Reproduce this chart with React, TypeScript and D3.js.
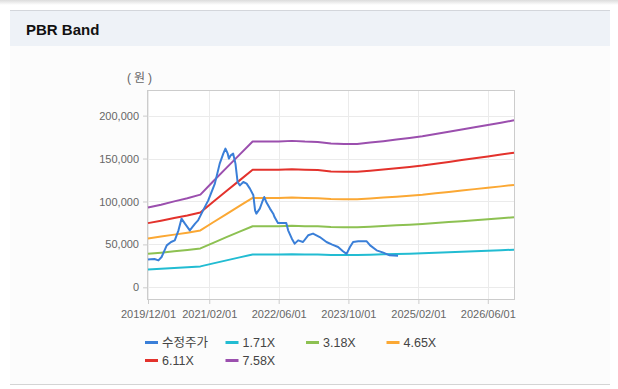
import React, { useRef, useEffect } from "react";
import * as d3 from "d3";

// band series are quarterly
const bandDates = [
  "2019-12-01", "2020-03-01", "2020-06-01", "2020-09-01", "2020-12-01",
  "2021-03-01", "2021-06-01", "2021-09-01", "2021-12-01", "2022-03-01",
  "2022-06-01", "2022-09-01", "2022-12-01", "2023-03-01", "2023-06-01",
  "2023-09-01", "2023-12-01", "2024-03-01", "2024-06-01", "2024-09-01",
  "2024-12-01", "2025-03-01", "2025-06-01", "2025-09-01", "2025-12-01",
  "2026-03-01", "2026-06-01", "2026-09-01", "2026-12-01",
];

const band171 = [
  20900, 21700, 22600, 23400, 24400, 27900, 31400, 34900, 38300, 38300,
  38300, 38500, 38300, 38200, 37800, 37700, 37700, 38000, 38400, 38800,
  39200, 39700, 40300, 40900, 41500, 42100, 42700, 43300, 43900,
];
const band318 = [
  39000, 40400, 42000, 43600, 45300, 51800, 58400, 64900, 71200, 71200,
  71200, 71600, 71200, 71100, 70300, 70100, 70100, 70700, 71500, 72200,
  72900, 73800, 74900, 76000, 77100, 78200, 79300, 80500, 81600,
];
const band465 = [
  57000, 59100, 61400, 63700, 66300, 75800, 85300, 94900, 104200, 104200,
  104200, 104600, 104200, 103900, 102800, 102500, 102500, 103400, 104500, 105600,
  106700, 107900, 109500, 111100, 112800, 114400, 116000, 117600, 119300,
];
const band611 = [
  74800, 77600, 80700, 83700, 87100, 99600, 112100, 124600, 136900, 136900,
  136900, 137500, 136900, 136600, 135000, 134700, 134700, 135900, 137300, 138800,
  140200, 141800, 143900, 146000, 148200, 150300, 152400, 154600, 156800,
];
const band758 = [
  92900, 96300, 100100, 103800, 108000, 123600, 139100, 154600, 169800, 169800,
  169800, 170600, 169800, 169400, 167500, 167100, 167100, 168600, 170300, 172100,
  173900, 175900, 178500, 181200, 183800, 186500, 189100, 191800, 194500,
];

// 수정주가
const priceDates = [
  "2019-12-01", "2019-12-20", "2020-01-15", "2020-02-12", "2020-03-05",
  "2020-04-10", "2020-05-10", "2020-06-05", "2020-07-01", "2020-07-22",
  "2020-08-15", "2020-09-18", "2020-10-25", "2020-11-15", "2020-12-20",
  "2021-01-25", "2021-03-12", "2021-04-15", "2021-05-10", "2021-05-25",
  "2021-06-10", "2021-06-18", "2021-07-01", "2021-07-18", "2021-08-03",
  "2021-08-18", "2021-09-03", "2021-09-27", "2021-10-20", "2021-11-12",
  "2021-12-06", "2021-12-18", "2021-12-27", "2022-01-20", "2022-02-06",
  "2022-02-20", "2022-03-06", "2022-04-01", "2022-04-24", "2022-05-03",
  "2022-05-27", "2022-07-24", "2022-08-06", "2022-09-01", "2022-09-21",
  "2022-10-15", "2022-11-18", "2022-12-24", "2023-01-27", "2023-03-15",
  "2023-05-01", "2023-06-06", "2023-07-21", "2023-08-24", "2023-09-18",
  "2023-10-12", "2023-11-03", "2023-12-09", "2024-02-06", "2024-03-01",
  "2024-04-15", "2024-06-01", "2024-07-15", "2024-09-12",
];
const priceValues = [
  32300, 32600, 33000, 31400, 35300,
  48900, 52800, 54700, 66400, 80000,
  74200, 66400, 74200, 78000, 89700,
  101300, 120800, 144100, 155700, 161600,
  155700, 149900, 153800, 155700, 144100,
  122700, 118800, 122700, 120800, 115000,
  107200, 89700, 85800, 91700, 99400,
  105200, 99400, 91700, 85800, 81900,
  74900, 74900, 66400, 56700, 50900,
  54700, 52800, 60600, 62600, 58600,
  52800, 50000, 47000, 42000, 39000,
  46900, 52800, 53600, 53600, 48900,
  43100, 40400, 37300, 36800,
];

const seriesNames = ["수정주가", "1.71X", "3.18X", "4.65X", "6.11X", "7.58X"];
const seriesColors = ["#3a7fd8", "#22bcd2", "#8dc152", "#fba834", "#e3322c", "#9b4fae"];

const xTickDates = ["2019-12-01", "2021-02-01", "2022-06-01", "2023-10-01", "2025-02-01", "2026-06-01"];
const xTickLabels = ["2019/12/01", "2021/02/01", "2022/06/01", "2023/10/01", "2025/02/01", "2026/06/01"];
const yTickValues = [0, 50000, 100000, 150000, 200000];

const FONT = "'Liberation Sans', 'Noto Sans CJK KR', Arial, sans-serif";

const App = () => {
  const ref = useRef<SVGSVGElement>(null);

  useEffect(() => {
    if (!ref.current) return;
    const W = 618;
    const H = 389;
    const plot = { left: 148, right: 514, top: 91, bottom: 299 };
    const parse = d3.utcParse("%Y-%m-%d");

    const svg = d3.select(ref.current);
    svg.selectAll("*").remove();

    // panel
    const defs = svg.append("defs");
    const grad = defs
      .append("linearGradient")
      .attr("id", "topShade")
      .attr("x1", 0)
      .attr("y1", 0)
      .attr("x2", 0)
      .attr("y2", 1);
    grad.append("stop").attr("offset", "0%").attr("stop-color", "#dcdcdc");
    grad.append("stop").attr("offset", "100%").attr("stop-color", "#ffffff");
    svg.append("rect").attr("width", W).attr("height", H).attr("fill", "#ffffff");
    svg.append("rect").attr("width", W).attr("height", 5).attr("fill", "url(#topShade)");
    svg
      .append("rect")
      .attr("x", 10)
      .attr("y", 11)
      .attr("width", 600)
      .attr("height", 373)
      .attr("fill", "#fcfcfc");
    svg
      .append("rect")
      .attr("x", 10)
      .attr("y", 11)
      .attr("width", 600)
      .attr("height", 35)
      .attr("fill", "#eef2f7");
    svg
      .append("line")
      .attr("x1", 10)
      .attr("x2", 610)
      .attr("y1", 10.5)
      .attr("y2", 10.5)
      .attr("stroke", "#d3d6db");
    svg
      .append("line")
      .attr("x1", 10)
      .attr("x2", 610)
      .attr("y1", 384.5)
      .attr("y2", 384.5)
      .attr("stroke", "#d4d4d4");
    svg
      .append("text")
      .attr("x", 26)
      .attr("y", 35)
      .attr("font-family", FONT)
      .attr("font-size", 15)
      .attr("font-weight", "bold")
      .attr("fill", "#111")
      .text("PBR Band");

    // scales
    const x = d3
      .scaleUtc()
      .domain([parse("2019-12-01")!, parse("2026-12-01")!])
      .range([plot.left, plot.right]);
    const y = d3.scaleLinear().domain([-13600, 228700]).range([plot.bottom, plot.top]);

    svg
      .append("rect")
      .attr("x", plot.left)
      .attr("y", plot.top)
      .attr("width", plot.right - plot.left)
      .attr("height", plot.bottom - plot.top)
      .attr("fill", "#ffffff");

    // grid
    svg
      .append("g")
      .selectAll("line")
      .data(yTickValues)
      .join("line")
      .attr("x1", plot.left)
      .attr("x2", plot.right)
      .attr("y1", (d) => Math.round(y(d)) + 0.5)
      .attr("y2", (d) => Math.round(y(d)) + 0.5)
      .attr("stroke", "#ebebeb");
    svg
      .append("g")
      .selectAll("line")
      .data(xTickDates)
      .join("line")
      .attr("x1", (d) => Math.round(x(parse(d)!)) + 0.5)
      .attr("x2", (d) => Math.round(x(parse(d)!)) + 0.5)
      .attr("y1", plot.top)
      .attr("y2", plot.bottom)
      .attr("stroke", "#ebebeb");

    // axes
    const yAxis = svg
      .append("g")
      .attr("transform", `translate(${plot.left},0)`)
      .call(
        d3
          .axisLeft(y)
          .tickValues(yTickValues)
          .tickSize(5)
          .tickPadding(4)
          .tickFormat((d) => d3.format(",")(d as number))
      );
    yAxis.select(".domain").remove();
    yAxis.selectAll(".tick line").attr("stroke", "#cccccc");
    yAxis
      .selectAll(".tick text")
      .attr("font-family", FONT)
      .attr("font-size", 11)
      .attr("fill", "#666");

    const xAxis = svg
      .append("g")
      .attr("transform", `translate(0,${plot.bottom})`)
      .call(
        d3
          .axisBottom(x)
          .tickValues(xTickDates.map((d) => parse(d)!))
          .tickSize(5)
          .tickPadding(6)
          .tickFormat((_d, i) => xTickLabels[i])
      );
    xAxis.select(".domain").remove();
    xAxis.selectAll(".tick line").attr("stroke", "#cccccc");
    xAxis
      .selectAll(".tick text")
      .attr("font-family", FONT)
      .attr("font-size", 11)
      .attr("fill", "#666");

    // frame
    svg
      .append("rect")
      .attr("x", plot.left - 0.5)
      .attr("y", plot.top - 0.5)
      .attr("width", plot.right - plot.left + 1)
      .attr("height", plot.bottom - plot.top + 1)
      .attr("fill", "none")
      .attr("stroke", "#cccccc");

    svg
      .append("text")
      .attr("x", 127)
      .attr("y", 82)
      .attr("font-family", FONT)
      .attr("font-size", 12)
      .attr("letter-spacing", 3)
      .attr("fill", "#666")
      .text("(원)");

    // lines
    const bandLine = d3
      .line<number>()
      .x((_d, i) => x(parse(bandDates[i])!))
      .y((d) => y(d));
    const bands = [band171, band318, band465, band611, band758];
    bands.forEach((b, k) => {
      svg
        .append("path")
        .datum(b)
        .attr("fill", "none")
        .attr("stroke", seriesColors[k + 1])
        .attr("stroke-width", 2)
        .attr("stroke-linejoin", "round")
        .attr("d", bandLine);
    });

    const priceLine = d3
      .line<number>()
      .x((_d, i) => x(parse(priceDates[i])!))
      .y((d) => y(d));
    svg
      .append("path")
      .datum(priceValues)
      .attr("fill", "none")
      .attr("stroke", seriesColors[0])
      .attr("stroke-width", 2)
      .attr("stroke-linejoin", "round")
      .attr("d", priceLine);

    // legend
    const legend = svg
      .append("g")
      .selectAll("g")
      .data(seriesNames)
      .join("g")
      .attr("transform", (_d, i) => `translate(${145 + (i % 4) * 80.5},${342.5 + Math.floor(i / 4) * 18})`);
    legend
      .append("line")
      .attr("x1", 0)
      .attr("x2", 13)
      .attr("stroke", (_d, i) => seriesColors[i])
      .attr("stroke-width", 3);
    legend
      .append("text")
      .attr("x", 17)
      .attr("y", 4.5)
      .attr("font-family", FONT)
      .attr("font-size", 12.5)
      .attr("fill", "#444")
      .text((d) => d);
  }, []);

  return (
    <div style={{ position: "absolute", left: 0, top: 0 }}>
      <svg ref={ref} width={618} height={389} style={{ display: "block" }} />
    </div>
  );
};

export default App;
